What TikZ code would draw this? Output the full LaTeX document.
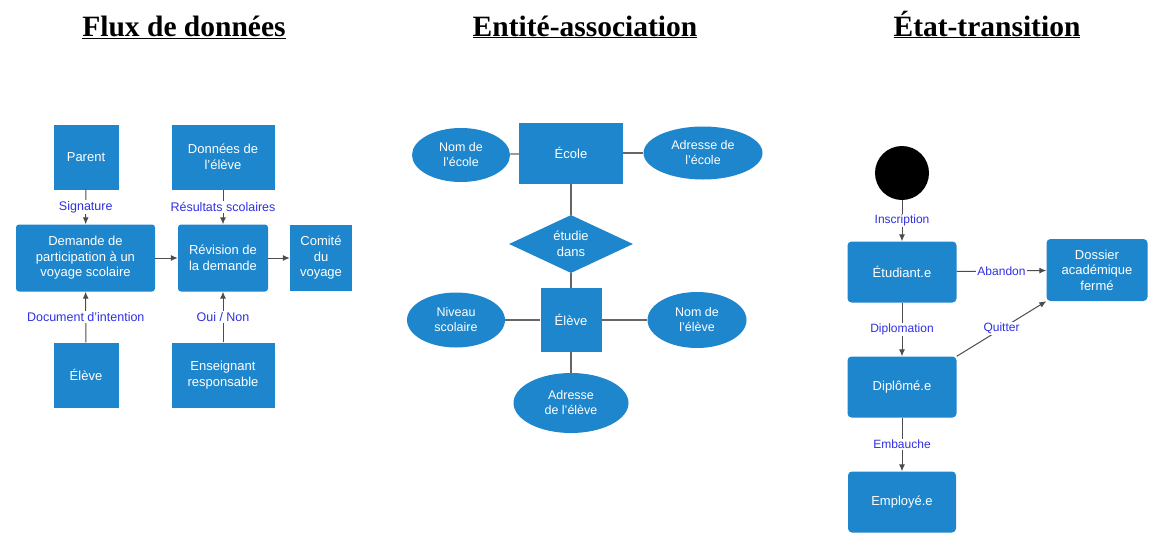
\documentclass[tikz,border=0pt]{standalone}
\usepackage{fontspec}
\setmainfont{Liberation Serif}
\setsansfont{Liberation Sans}
\usetikzlibrary{arrows,arrows.meta,positioning,shapes}
\definecolor{boxblue}{RGB}{30,134,204}
\definecolor{labelblue}{RGB}{48,48,228}

\begin{document}
\begin{tikzpicture}[
        x=1pt, y=-1pt,
        box/.style={rectangle, fill=boxblue, text=white, align=center, inner sep=1pt,
            font=\sffamily\fontsize{13}{15.5}\selectfont},
        extbox/.style={box},
        process/.style={box, rounded corners=3pt},
        entity/.style={box},
        attribute/.style={ellipse, fill=boxblue, text=white, align=center, inner sep=1pt,
            font=\sffamily\fontsize{12.5}{15}\selectfont},
        relation/.style={diamond, aspect=2.1, fill=boxblue, text=white, align=center, inner sep=1pt,
            font=\sffamily\fontsize{13}{15.5}\selectfont},
        statebox/.style={box, rounded corners=4pt},
        startdot/.style={circle, fill=black, minimum size=54pt, inner sep=0pt},
        heading/.style={anchor=base, font=\bfseries\fontsize{29.5}{34}\selectfont},
        flowlabel/.style={fill=white, text=labelblue, inner sep=1pt,
            font=\sffamily\fontsize{12.5}{15}\selectfont},
        smalllabel/.style={flowlabel, font=\sffamily\fontsize{12}{14}\selectfont},
        arrow/.style={-{Latex[length=7pt,width=6pt]}, draw=black!70, line width=1pt},
        link/.style={draw=black!60, line width=1.2pt}
    ]
        \useasboundingbox (0,0) rectangle (1151,533);

        % Titles
        \node[heading] (tflux) at (184,36) {\underline{Flux de données}};
        \node[heading] (tentite) at (585,36) {\underline{Entité-association}};
        \node[heading] (tetat) at (987,36) {\underline{État-transition}};

        % Flux de donnees
        \node[extbox, minimum width=65pt, minimum height=65pt] (parent) at (86,157) {Parent};
        \node[extbox, minimum width=103pt, minimum height=65pt] (donnees) at (223,157) {Données de\\l'élève};
        \node[process, minimum width=139pt, minimum height=67pt] (demande) at (85.5,258) {Demande de\\participation à un\\voyage scolaire};
        \node[process, minimum width=90pt, minimum height=67pt] (revision) at (223,258) {Révision de\\la demande};
        \node[extbox, minimum width=62pt, minimum height=66pt] (comite) at (321,258) {Comité\\du\\voyage};
        \node[extbox, minimum width=65pt, minimum height=65pt] (eleve) at (86,375) {Élève};
        \node[extbox, minimum width=103pt, minimum height=65pt] (enseignant) at (223,375) {Enseignant\\responsable};

        \draw[arrow] (parent) -- node[flowlabel] {Signature} (demande);
        \draw[arrow] (donnees) -- node[flowlabel] {Résultats scolaires} (revision);
        \draw[arrow] (eleve) -- node[flowlabel] {Document d'intention} (demande);
        \draw[arrow] (enseignant) -- node[flowlabel] {Oui / Non} (revision);
        \draw[arrow] (demande) -- (revision);
        \draw[arrow] (revision) -- (comite);

        % Entite-association
        \node[attribute, minimum width=98pt, minimum height=54pt] (nomecole) at (461,155) {Nom de\\l'école};
        \node[entity, minimum width=104pt, minimum height=61pt] (ecole) at (571,153) {École};
        \node[attribute, minimum width=119pt, minimum height=53pt] (adrecole) at (703,153) {Adresse de\\l'école};
        \node[relation, minimum width=124pt, minimum height=58pt] (etudie) at (571,244) {étudie\\dans};
        \node[entity, minimum width=61pt, minimum height=64pt] (eleveer) at (571,320) {Élève};
        \node[attribute, minimum width=98pt, minimum height=55pt] (niveau) at (456,320) {Niveau\\scolaire};
        \node[attribute, minimum width=99pt, minimum height=56pt] (nomeleve) at (697,320) {Nom de\\l'élève};
        \node[attribute, minimum width=115pt, minimum height=60pt] (adreleve) at (571,403) {Adresse\\de l'élève};

        \draw[link] (nomecole) -- (ecole);
        \draw[link] (ecole) -- (adrecole);
        \draw[link] (ecole) -- (etudie);
        \draw[link] (etudie) -- (eleveer);
        \draw[link] (niveau) -- (eleveer);
        \draw[link] (eleveer) -- (nomeleve);
        \draw[link] (eleveer) -- (adreleve);

        % Etat-transition
        \node[startdot] (debut) at (902,173) {};
        \node[statebox, minimum width=109pt, minimum height=61pt] (etudiant) at (902,272) {Étudiant.e};
        \node[statebox, minimum width=101pt, minimum height=62pt] (dossier) at (1097,270) {Dossier\\académique\\fermé};
        \node[statebox, minimum width=109pt, minimum height=61pt] (diplome) at (902,387) {Diplômé.e};
        \node[statebox, minimum width=108pt, minimum height=61pt] (employe) at (902,502) {Employé.e};

        \draw[arrow] (debut) -- node[smalllabel] {Inscription} (etudiant);
        \draw[arrow] (etudiant) -- node[smalllabel] {Diplomation} (diplome);
        \draw[arrow] (diplome) -- node[smalllabel] {Embauche} (employe);
        \draw[arrow] (etudiant) -- node[smalllabel] {Abandon} (dossier);
        \draw[arrow] (diplome.north east) -- node[smalllabel] {Quitter} (dossier.south west);
    \end{tikzpicture}
\end{document}
